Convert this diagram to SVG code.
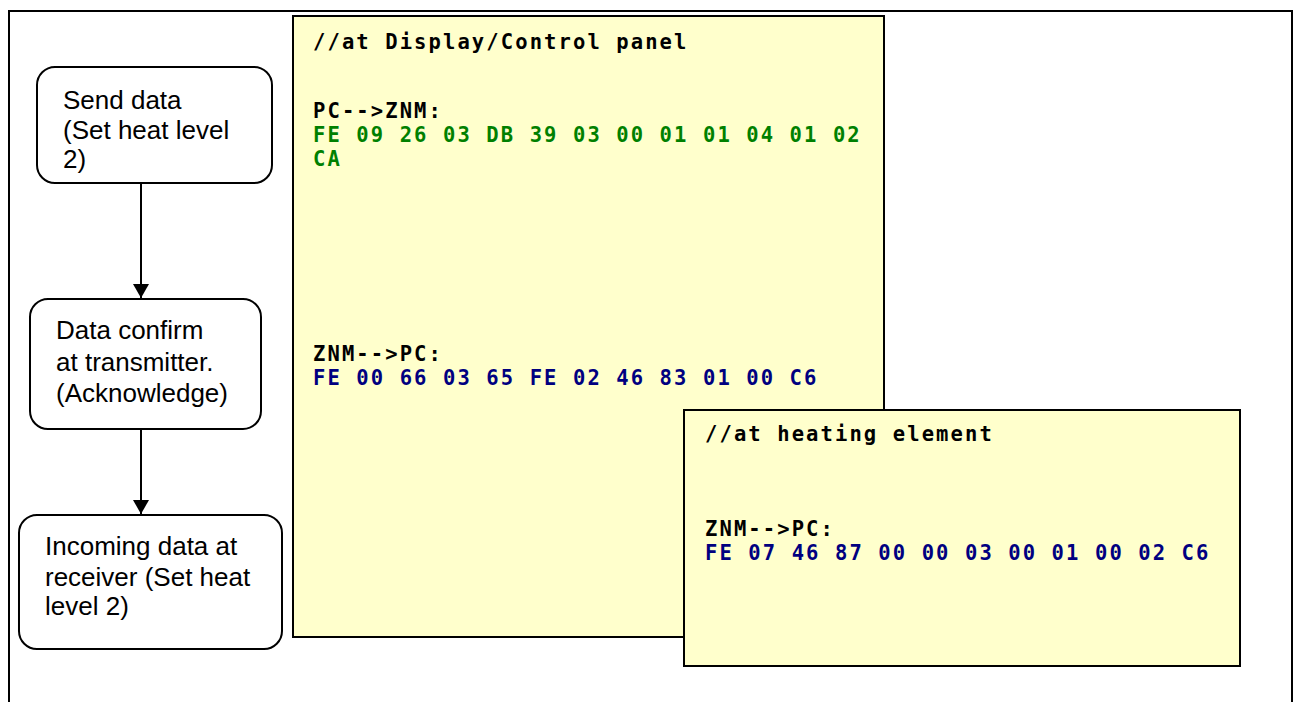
<svg xmlns="http://www.w3.org/2000/svg" width="1299" height="702" viewBox="0 0 1299 702">
  <style>
    .frame { fill: #ffffff; stroke: #000000; stroke-width: 2; }
    .step { fill: #ffffff; stroke: #000000; stroke-width: 2; }
    .step-text { font-family: "Liberation Sans", Arial, sans-serif; font-size: 26px; fill: #000000; }
    .note { fill: #ffffcc; stroke: #000000; stroke-width: 2; }
    .code { font-family: "DejaVu Sans Mono", "Liberation Mono", monospace; font-size: 20.5px; font-weight: bold; letter-spacing: 2.1px; fill: #000000; }
    .tx { fill: #008000; }
    .rx { fill: #000080; }
    .link { stroke: #000000; stroke-width: 2; fill: none; }
  </style>
  <defs>
    <marker id="arrowhead" viewBox="0 0 14 16" refX="14" refY="8" markerWidth="14" markerHeight="16" markerUnits="userSpaceOnUse" orient="auto">
      <path d="M0,0 L14,8 L0,16 Z" fill="#000000"/>
    </marker>
  </defs>

  <!-- outer border -->
  <rect class="frame" x="9" y="11" width="1283" height="720"/>

  <!-- flow steps -->
  <g id="send-data">
    <rect class="step" x="37" y="67" width="235" height="116" rx="18" ry="18"/>
    <text class="step-text" x="63" y="109">Send data</text>
    <text class="step-text" x="63" y="138.5">(Set heat level</text>
    <text class="step-text" x="63" y="168">2)</text>
  </g>

  <g id="data-confirm">
    <rect class="step" x="30" y="299" width="231" height="130" rx="18" ry="18"/>
    <text class="step-text" x="56" y="339">Data confirm</text>
    <text class="step-text" x="56" y="371">at transmitter.</text>
    <text class="step-text" x="56" y="402">(Acknowledge)</text>
  </g>

  <g id="incoming-data">
    <rect class="step" x="19" y="515" width="263" height="134" rx="18" ry="18"/>
    <text class="step-text" x="45" y="555">Incoming data at</text>
    <text class="step-text" x="45" y="586">receiver (Set heat</text>
    <text class="step-text" x="45" y="615">level 2)</text>
  </g>

  <!-- connectors -->
  <g id="connectors">
    <line class="link" x1="141" y1="184" x2="141" y2="298" marker-end="url(#arrowhead)"/>
    <line class="link" x1="141" y1="430" x2="141" y2="514" marker-end="url(#arrowhead)"/>
  </g>

  <!-- frame log at the display/control panel -->
  <g id="panel-log">
    <rect class="note" x="293" y="16" width="591" height="621"/>
    <text class="code" x="313" y="49">//at Display/Control panel</text>
    <text class="code" x="313" y="118">PC-->ZNM:</text>
    <text class="code tx" x="313" y="142">FE 09 26 03 DB 39 03 00 01 01 04 01 02</text>
    <text class="code tx" x="313" y="166">CA</text>
    <text class="code" x="313" y="361">ZNM-->PC:</text>
    <text class="code rx" x="313" y="385">FE 00 66 03 65 FE 02 46 83 01 00 C6</text>
  </g>

  <!-- frame log at the heating element -->
  <g id="heater-log">
    <rect class="note" x="684" y="410" width="556" height="256"/>
    <text class="code" x="705" y="441">//at heating element</text>
    <text class="code" x="705" y="536">ZNM-->PC:</text>
    <text class="code rx" x="705" y="560">FE 07 46 87 00 00 03 00 01 00 02 C6</text>
  </g>
</svg>
